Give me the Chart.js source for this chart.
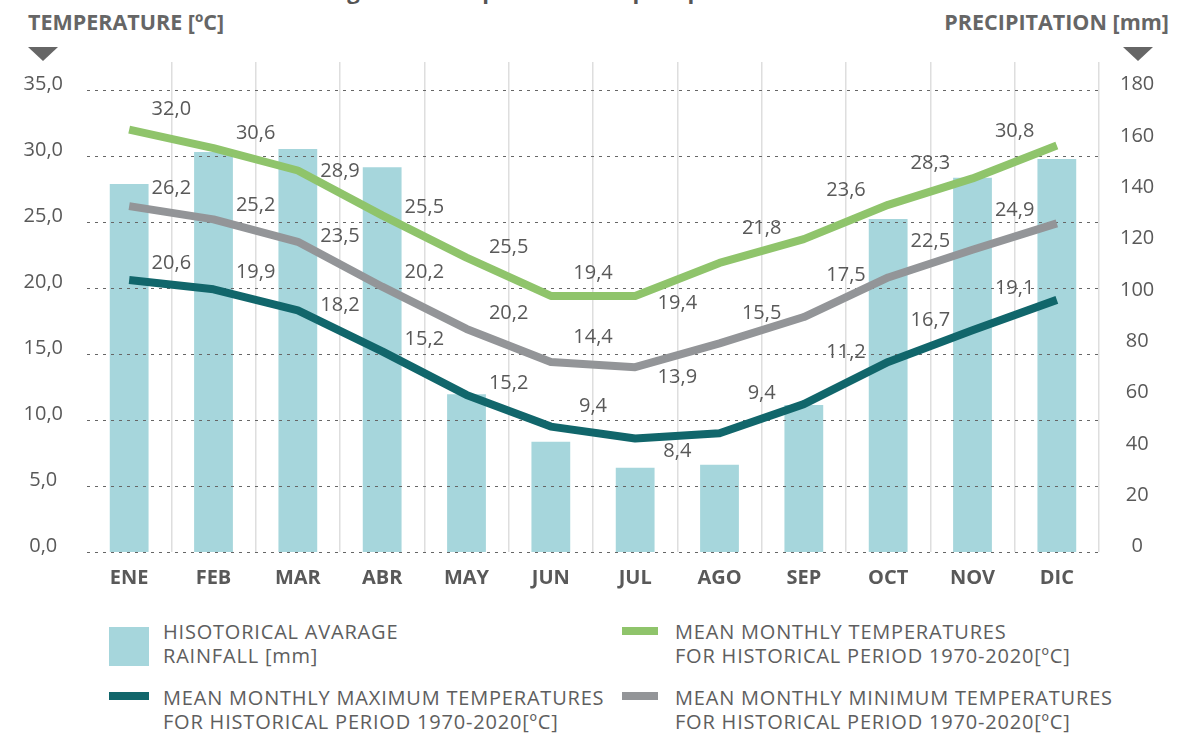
<!DOCTYPE html>
<html>
<head>
<meta charset="utf-8">
<script src="https://cdn.jsdelivr.net/npm/chart.js@4.4.1/dist/chart.umd.min.js"></script>
<style>
body { margin: 0; background: #fff; font-family: "Open Sans", sans-serif; }
#wrap { position: relative; width: 1201px; height: 735px; overflow: hidden; }
#grafico { position: absolute; left: 0; top: 0; }
.titulo { position: absolute; top: -21px; left: 0; width: 1060px; text-align: center; font-size: 22px; font-weight: 700; line-height: 1; color: #555; }
.eje { position: absolute; top: 11px; font-size: 21.5px; font-weight: 700; line-height: 1; color: #666; }
.tri { position: absolute; top: 47px; width: 0; height: 0; border-left: 15px solid transparent; border-right: 15px solid transparent; border-top: 14px solid #666; }
.ley { position: absolute; font-size: 20px; line-height: 24px; color: #5e5e5e; letter-spacing: 0.8px; white-space: nowrap; }
.caja { position: absolute; }
</style>
</head>
<body>
<div id="wrap">
  <div class="titulo">Climogram of temperature and precipitation</div>
  <div class="eje" style="left:28px">TEMPERATURE [ºC]</div>
  <div class="eje" style="right:32px">PRECIPITATION [mm]</div>
  <div class="tri" style="left:28px"></div>
  <div class="tri" style="left:1123px"></div>
  <canvas id="grafico" width="1201" height="600"></canvas>

  <div class="caja" style="left:109px;top:627px;width:40px;height:39px;background:#a6d6dc"></div>
  <div class="ley" style="left:163px;top:620px">HISOTORICAL AVARAGE<br>RAINFALL [mm]</div>
  <div class="caja" style="left:622px;top:627px;width:36px;height:8px;background:#8fc46b"></div>
  <div class="ley" style="left:675px;top:620px">MEAN MONTHLY TEMPERATURES<br>FOR HISTORICAL PERIOD 1970-2020[ºC]</div>
  <div class="caja" style="left:109px;top:692px;width:40px;height:8px;background:#11666b"></div>
  <div class="ley" style="left:163px;top:686px">MEAN MONTHLY MAXIMUM TEMPERATURES<br>FOR HISTORICAL PERIOD 1970-2020[ºC]</div>
  <div class="caja" style="left:622px;top:692px;width:36px;height:8px;background:#939598"></div>
  <div class="ley" style="left:675px;top:686px">MEAN MONTHLY MINIMUM TEMPERATURES<br>FOR HISTORICAL PERIOD 1970-2020[ºC]</div>
</div>

<script>
const meses = ["ENE", "FEB", "MAR", "ABR", "MAY", "JUN", "JUL", "AGO", "SEP", "OCT", "NOV", "DIC"]
const lluvia = [143.4, 155.8, 157.0, 149.9, 61.5, 43.0, 32.8, 34.0, 57.3, 129.7, 145.8, 153.1]
const tempMedia = [32.0, 30.6, 28.9, 25.5, 22.3, 19.4, 19.4, 21.9, 23.7, 26.3, 28.3, 30.8]
const tempMin = [26.2, 25.2, 23.5, 20.1, 16.9, 14.4, 14.0, 15.8, 17.8, 20.8, 22.9, 24.9]
const tempMax = [20.6, 19.9, 18.3, 15.2, 11.9, 9.5, 8.6, 9.0, 11.2, 14.4, 16.8, 19.1]

// textos tal cual aparecen en el grafico (OCT sin etiqueta)
const etiquetasMedia = ["32,0", "30,6", "28,9", "25,5", "25,5", "19,4", "19,4", "21,8", "23,6", "", "28,3", "30,8"]
const etiquetasMin = ["26,2", "25,2", "23,5", "20,2", "20,2", "14,4", "13,9", "15,5", "17,5", "", "22,5", "24,9"]
const etiquetasMax = ["20,6", "19,9", "18,2", "15,2", "15,2", "9,4", "8,4", "9,4", "11,2", "", "16,7", "19,1"]

const ticksTemp = [0, 5, 10, 15, 20, 25, 30, 35]
const ticksPrec = [0, 20, 40, 60, 80, 100, 120, 140, 160, 180]

// desplazamiento de las etiquetas respecto al punto
const lado = [1, 1, 1, 1, 1, 1, 1, 1, 1, 0, -1, -1]
const dyMedia = [-20, -15, 1, -8, -10, -23, 7, -35, -49, 0, -15, -14]
const dyMin = [-18, -14, -5, -14, -16, -25, 10, -30, -42, 0, -8, -13]
const dyMax = [-17, -17, -5, -12, -12, -20, 13, -40, -52, 0, -10, -12]

const gris = "#595959"
Chart.defaults.font.family = "'Open Sans'"
Chart.defaults.color = gris

const lineasPunteadas = {
  id: "lineasPunteadas",
  afterDatasetDraw(chart, args) {
    if (args.index !== 0) return
    const ctx = chart.ctx
    const y = chart.scales.y
    const a = chart.chartArea
    ctx.save()
    ctx.setLineDash([3, 5])
    ctx.strokeStyle = "#666"
    ctx.lineWidth = 1
    ticksTemp.forEach((v) => {
      const py = Math.round(y.getPixelForValue(v)) + 0.5
      ctx.beginPath()
      ctx.moveTo(a.left, py)
      ctx.lineTo(a.right, py)
      ctx.stroke()
    })
    ctx.restore()
  }
}

const etiquetas = {
  id: "etiquetas",
  afterDatasetsDraw(chart) {
    const ctx = chart.ctx
    const x = chart.scales.x
    const medio = (x.getPixelForValue(1) - x.getPixelForValue(0)) / 2
    const grupos = [[1, etiquetasMedia, dyMedia], [2, etiquetasMin, dyMin], [3, etiquetasMax, dyMax]]
    ctx.save()
    ctx.font = "20px 'Open Sans'"
    ctx.fillStyle = gris
    ctx.textAlign = "center"
    ctx.textBaseline = "middle"
    grupos.forEach(([i, textos, dy]) => {
      const meta = chart.getDatasetMeta(i)
      meta.data.forEach((p, j) => {
        if (!textos[j]) return
        ctx.fillText(textos[j], p.x + lado[j] * medio, p.y + dy[j])
      })
    })
    ctx.restore()
  }
}

const coma = (v) => v.toFixed(1).replace(".", ",")

const config = {
  data: {
    labels: meses,
    datasets: [
      {
        type: "bar",
        label: "HISOTORICAL AVARAGE RAINFALL [mm]",
        data: lluvia,
        yAxisID: "y1",
        backgroundColor: "#a6d6dc",
        barPercentage: 0.46,
        categoryPercentage: 1,
        order: 10
      },
      {
        type: "line",
        label: "MEAN MONTHLY TEMPERATURES",
        data: tempMedia,
        yAxisID: "y",
        borderColor: "#8fc46b",
        borderWidth: 8,
        pointRadius: 0,
        borderJoinStyle: "round",
        order: 1
      },
      {
        type: "line",
        label: "MEAN MONTHLY MINIMUM TEMPERATURES",
        data: tempMin,
        yAxisID: "y",
        borderColor: "#939598",
        borderWidth: 8,
        pointRadius: 0,
        borderJoinStyle: "round",
        order: 2
      },
      {
        type: "line",
        label: "MEAN MONTHLY MAXIMUM TEMPERATURES",
        data: tempMax,
        yAxisID: "y",
        borderColor: "#11666b",
        borderWidth: 8,
        pointRadius: 0,
        borderJoinStyle: "round",
        order: 3
      }
    ]
  },
  options: {
    responsive: false,
    animation: false,
    devicePixelRatio: 1,
    layout: { padding: { top: 62, right: 26, left: 0, bottom: 0 } },
    plugins: { legend: { display: false }, tooltip: { enabled: false } },
    scales: {
      x: {
        offset: true,
        grid: {
          offset: true,
          drawTicks: false,
          lineWidth: 1.5,
          color: (c) => (c.index === 0 || c.index === 12 ? "rgba(0,0,0,0)" : "#dedede")
        },
        border: { display: false },
        ticks: { font: { size: 20, weight: "bold" }, padding: 14, color: gris },
        afterFit: (s) => { s.height = 48 }
      },
      y: {
        position: "left",
        min: 0,
        max: 37.12,
        grid: { display: false, drawTicks: false },
        border: { display: false },
        afterBuildTicks: (s) => { s.ticks = ticksTemp.map((v) => ({ value: v })) },
        ticks: {
          font: { size: 20, lineHeight: 0.55 },
          crossAlign: "center",
          padding: 24,
          callback: (v) => [coma(v), ""]
        },
        afterFit: (s) => { s.width = 87 }
      },
      y1: {
        position: "right",
        min: 0,
        max: 190.9,
        grid: { display: false, drawTicks: false },
        border: { display: false },
        afterBuildTicks: (s) => { s.ticks = ticksPrec.map((v) => ({ value: v })) },
        ticks: {
          font: { size: 20, lineHeight: 0.55 },
          crossAlign: "center",
          padding: 21,
          callback: (v) => [String(v), ""]
        },
        afterFit: (s) => { s.width = 76 }
      }
    }
  },
  plugins: [lineasPunteadas, etiquetas]
}

new Chart(document.getElementById("grafico"), config)
</script>
</body>
</html>
